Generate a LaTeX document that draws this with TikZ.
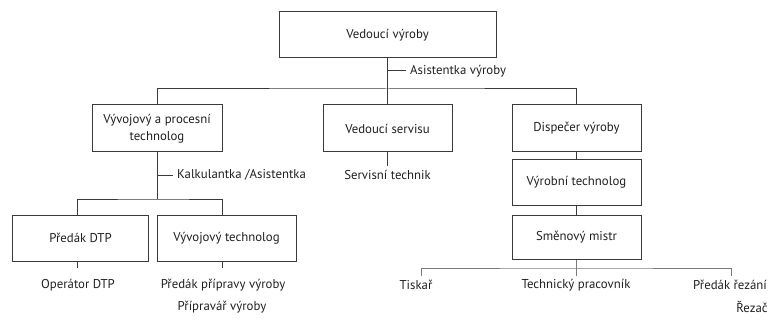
\documentclass[tikz,border=0pt]{standalone}
\usepackage{fontspec}
\setmainfont{PT Sans}
\usepackage{xcolor}
\usepackage{tikz}
\usetikzlibrary{positioning, calc}
\definecolor{orgLine}{HTML}{3A3A3A}
\definecolor{orgFaint}{HTML}{7A7A7A}
\definecolor{orgText}{HTML}{231F20}
\tikzset{
  org-box/.style={
    rectangle, draw=orgLine, line width=1pt, fill=white,
    minimum height=46pt, minimum width=129pt, align=center,
    inner sep=2pt, text=orgText, font=\fontsize{12.8}{16.5}\selectfont
  },
  org-lbl/.style={
    inner sep=1pt, text=orgText, font=\fontsize{12.8}{16.5}\selectfont
  },
  org-link/.style={draw=orgLine, line width=1pt},
  org-link-faint/.style={draw=orgFaint, line width=1pt},
}

\begin{document}
\begin{tikzpicture}[x=1pt, y=-1pt]
  \useasboundingbox (0,0) rectangle (771,326);

  % boxes
  \node[org-box, minimum width=217pt]                   (head)    at (387.5,35)  {Vedoucí výroby};
  \node[org-box, minimum width=130pt, minimum height=47pt] (devtech) at (157,128.5) {Vývojový a procesní\\technolog};
  \node[org-box, minimum height=47pt]                   (service) at (387.5,128.5) {Vedoucí servisu};
  \node[org-box, minimum height=47pt]                   (dispatch) at (576.5,128.5) {Dispečer výroby};
  \node[org-box, minimum height=45pt]                   (prodtech) at (576.5,182.5) {Výrobní technolog};
  \node[org-box, minimum height=44pt]                   (shift)   at (576.5,237)   {Směnový mistr};
  \node[org-box, minimum width=136pt]                   (dtp)     at (80.5,238)    {Předák DTP};
  \node[org-box, minimum width=139pt]                   (vyvoj)   at (226.5,238)   {Vývojový technolog};

  % plain labels
  \node[org-lbl, anchor=west] (asist)   at (409,71)   {Asistentka výroby};
  \node[org-lbl, anchor=west] (calc)    at (176,175)  {Kalkulantka /Asistentka};
  \node[org-lbl]              (servtech) at (387.5,175) {Servisní technik};
  \node[org-lbl]              (opdtp)   at (78,285)    {Operátor DTP};
  \node[org-lbl]              (prepfor) at (223,285)   {Předák přípravy výroby};
  \node[org-lbl]              (prepman) at (222,307)   {Přípravář výroby};
  \node[org-lbl]              (printer) at (416,285)   {Tiskař};
  \node[org-lbl]              (techwork) at (576,285)  {Technický pracovník};
  \node[org-lbl]              (cutfor)  at (730,285)   {Předák řezání};
  \node[org-lbl]              (cutter)  at (752,307)   {Řezač};

  \coordinate (bar1)  at (387.5,89);
  \coordinate (bar2)  at (157,199);
  \coordinate (barC)  at (576.5,268);
  \coordinate (tickL) at (421,276);
  \coordinate (tickC) at (576.5,276);
  \coordinate (tickR) at (731,276);

  % connectors
  \draw[org-link] (head) -- (service);
  \draw[org-link] (devtech.north) |- (bar1) -| (dispatch.north);
  \draw[org-link] (head.south |- asist.west) -- ([xshift=-3pt]asist.west);
  \draw[org-link] (devtech) -- (bar2);
  \draw[org-link] (devtech.south |- calc.west) -- ([xshift=-3pt]calc.west);
  \draw[org-link] ([xshift=-3.5pt]dtp.north) |- (bar2) -| ([xshift=-4.5pt]vyvoj.north);
  \draw[org-link, shorten >=3pt] (service) -- (servtech);
  \draw[org-link] (dispatch) -- (prodtech);
  \draw[org-link] (prodtech) -- (shift);
  \draw[org-link, shorten >=10pt] ([xshift=-3.5pt]dtp.south) -- ([xshift=-3.5pt]dtp.south |- opdtp.north);
  \draw[org-link, shorten >=10pt] ([xshift=-4.5pt]vyvoj.south) -- ([xshift=-4.5pt]vyvoj.south |- prepfor.north);
  \draw[org-link-faint] (shift.south) -- (tickC);
  \draw[org-link-faint] (tickL) |- (barC) -| (tickR);
\end{tikzpicture}
\end{document}
